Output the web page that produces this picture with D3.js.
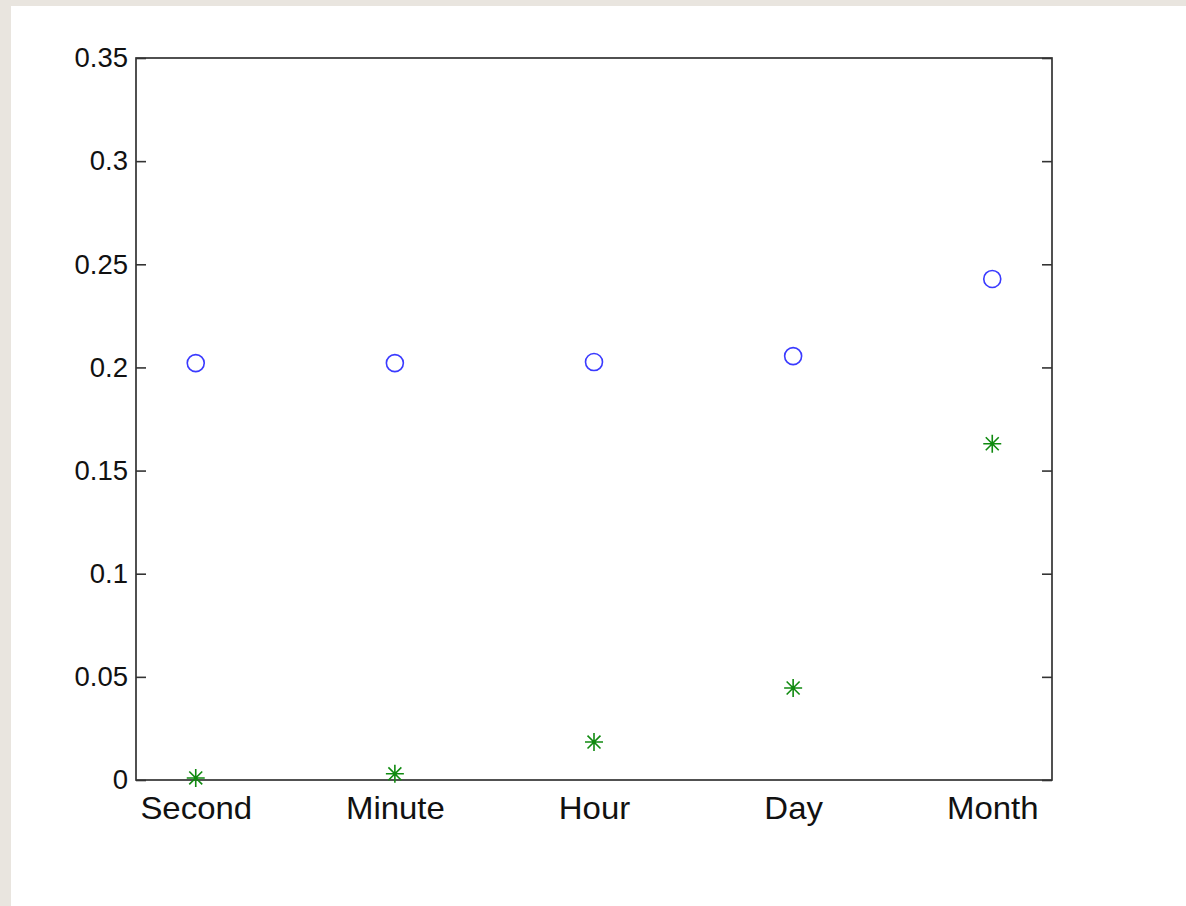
<!DOCTYPE html>
<html>
<head>
<meta charset="utf-8">
<script src="https://cdn.jsdelivr.net/npm/d3@7"></script>
<style>
  html, body { margin: 0; padding: 0; background: #e9e5df; }
  svg { display: block; }
</style>
</head>
<body>
<svg id="chart" width="1186" height="906"></svg>
<script>
const categories = ["Second", "Minute", "Hour", "Day", "Month"];
const circleValues = [0.2021, 0.2021, 0.2026, 0.2055, 0.2429];
const starValues = [0.0010, 0.0030, 0.0184, 0.0446, 0.1630];
const yTicks = [0, 0.05, 0.1, 0.15, 0.2, 0.25, 0.3, 0.35];
const yTickLabels = ["0", "0.05", "0.1", "0.15", "0.2", "0.25", "0.3", "0.35"];

const svg = d3.select("#chart");
svg.append("rect").attr("x", 11).attr("y", 6).attr("width", 1175).attr("height", 900).attr("fill", "#ffffff");

const pLeft = 136, pRight = 1052, pTop = 58, pBottom = 780;
const x = d3.scaleLinear().domain([0.7, 5.3]).range([pLeft, pRight]);
const y = d3.scaleLinear().domain([0, 0.35]).range([pBottom, pTop]);

const font = "'Liberation Sans', Arial, Helvetica, sans-serif";

// left axis
const yAxisL = d3.axisLeft(y).tickValues(yTicks).tickFormat((d, i) => yTickLabels[i])
  .tickSizeInner(-10).tickSizeOuter(0).tickPadding(8);
const gl = svg.append("g").attr("transform", `translate(${pLeft},0)`).call(yAxisL);
gl.select(".domain").remove();
gl.selectAll(".tick line").attr("stroke", "#333").attr("stroke-width", 1.6);
gl.selectAll(".tick text").attr("font-family", font).attr("font-size", 27.5).attr("fill", "#111")
  .attr("x", -8);

// right axis ticks
const yAxisR = d3.axisRight(y).tickValues(yTicks).tickFormat("").tickSizeInner(-10).tickSizeOuter(0);
const gr = svg.append("g").attr("transform", `translate(${pRight},0)`).call(yAxisR);
gr.select(".domain").remove();
gr.selectAll(".tick line").attr("stroke", "#333").attr("stroke-width", 1.6);

// bottom category labels
const xAxis = d3.axisBottom(x).tickValues([1, 2, 3, 4, 5]).tickFormat((d, i) => categories[i])
  .tickSize(0).tickPadding(0);
const gb = svg.append("g").attr("transform", `translate(0,${pBottom})`).call(xAxis);
gb.select(".domain").remove();
gb.selectAll(".tick text").attr("font-family", font).attr("font-size", 30.5).attr("fill", "#111")
  .attr("dy", null).attr("y", 39).attr("transform", "scale(1.08,1)");

// frame
svg.append("rect").attr("x", pLeft).attr("y", pTop).attr("width", pRight - pLeft).attr("height", pBottom - pTop)
  .attr("fill", "none").attr("stroke", "#333").attr("stroke-width", 1.7);

// circles
svg.append("g").selectAll("circle").data(circleValues).join("circle")
  .attr("cx", (d, i) => x(i + 1)).attr("cy", d => y(d)).attr("r", 8.5)
  .attr("fill", "none").attr("stroke", "#3a3aff").attr("stroke-width", 1.6);

// stars
const s = 9, dg = s * 0.72;
const starPath = `M${-s},0L${s},0M0,${-s}L0,${s}M${-dg},${-dg}L${dg},${dg}M${-dg},${dg}L${dg},${-dg}`;
svg.append("g").selectAll("path").data(starValues).join("path")
  .attr("transform", (d, i) => `translate(${x(i + 1)},${y(d)})`)
  .attr("d", starPath).attr("fill", "none").attr("stroke", "#108a10").attr("stroke-width", 1.6);
</script>
</body>
</html>
